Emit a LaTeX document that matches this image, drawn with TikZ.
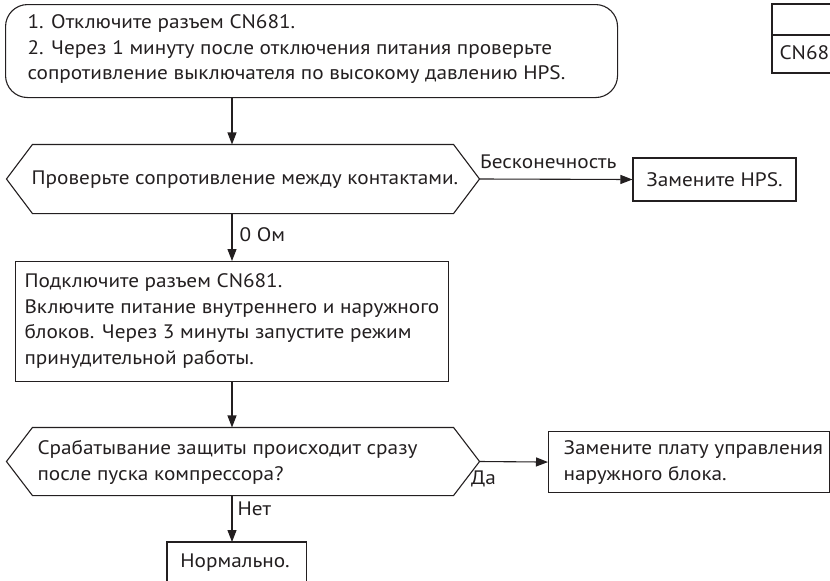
\documentclass[tikz,border=0pt]{standalone}
\usepackage{fontspec}
\setmainfont{PT Sans}[FakeStretch=1.09]
\usetikzlibrary{arrows.meta}
\definecolor{ink}{RGB}{35,31,32}
\begin{document}
\begin{tikzpicture}[x=1pt,y=-1pt, line width=1.1pt,
  every node/.style={text=ink},
  font=\fontsize{19.5}{25.5}\selectfont,
  box/.style={draw=ink, line width=1.1pt, anchor=north west, inner sep=0pt},
  txt/.style={anchor=west, align=left, inner sep=0pt},
  lbl/.style={inner sep=0pt},
  arr/.style={draw=ink, line width=1.1pt, -{Triangle[length=12pt,width=9pt]}},
  edge/.style={draw=ink, line width=1.1pt}]
\path[use as bounding box] (0,0) rectangle (830,581);

% start box
\node[box, rounded corners=22pt, minimum width=612pt, minimum height=93pt] (start) at (5,4) {};
\node[txt] (startT) at (27,49.5) {1. Отключите разъем CN681.\\2. Через 1 минуту после отключения питания проверьте\\сопротивление выключателя по высокому давлению HPS.};

\coordinate (spine) at (232,0);

% hexagon 1
\node[inner sep=0pt, minimum width=472pt, minimum height=68pt] (h1) at (243,179) {};
\draw[edge] (h1.west) -- ([xshift=26pt]h1.north west) -- ([xshift=-26pt]h1.north east) -- (h1.east) -- ([xshift=-26pt]h1.south east) -- ([xshift=26pt]h1.south west) -- cycle;
\node[lbl] (h1T) at (245,180) {Проверьте сопротивление между контактами.};

% HPS box
\node[draw=ink, line width=1.1pt, minimum width=163pt, minimum height=43pt, inner sep=0pt] (hps) at (714.5,179.5) {Замените HPS.};

% box 2
\node[box, minimum width=433pt, minimum height=120pt] (b2) at (15,261) {};
\node[txt] (b2T) at (24,321) {Подключите разъем CN681.\\Включите питание внутреннего и наружного\\блоков. Через 3 минуты запустите режим\\принудительной работы.};

% hexagon 2
\node[inner sep=0pt, minimum width=472pt, minimum height=67pt] (h2) at (243,461.5) {};
\draw[edge] (h2.west) -- ([xshift=26pt]h2.north west) -- ([xshift=-26pt]h2.north east) -- (h2.east) -- ([xshift=-26pt]h2.south east) -- ([xshift=26pt]h2.south west) -- cycle;
\node[txt] (h2T) at (37,462.5) {Срабатывание защиты происходит сразу\\после пуска компрессора?};

% control board box
\node[box, minimum width=281pt, minimum height=61pt] (ctrl) at (548,431) {};
\node[txt] (ctrlT) at (563,462.5) {Замените плату управления\\наружного блока.};

% normal box (cut at bottom)
\node[inner sep=0pt, anchor=north west, minimum width=138pt, minimum height=39pt] (ok) at (167,542) {};
\draw[edge] (ok.south west) -- (ok.north west) -- (ok.north east) -- (ok.south east);
\node[lbl] (okT) at (235,563) {Нормально.};

% CN68 table fragment
\coordinate (cnA) at (772,4);
\coordinate (cnB) at (830,4);
\coordinate (cnC) at (772,35);
\coordinate (cnD) at (830,35);
\coordinate (cnE) at (772,73);
\coordinate (cnF) at (830,73);
\draw[edge] (cnB) -- (cnA) -- (cnE) -- (cnF);
\draw[edge] (cnC) -- (cnD);
\node[txt] (cnT) at (779,53) {CN68};

% connectors
\draw[arr] (start.south -| spine) -- (h1.north -| spine);
\draw[arr] (h1.south -| spine) -- (b2.north -| spine) node[lbl, pos=0.45, anchor=west, xshift=7pt] {0 Ом};
\draw[arr] (b2.south -| spine) -- (h2.north -| spine);
\draw[arr] (h2.south -| spine) -- (ok.north -| spine) node[lbl, pos=0.28, anchor=west, xshift=5pt] {Нет};
\draw[arr] (h1.east) -- (hps.west) node[lbl, pos=0, anchor=west, yshift=17pt] {Бесконечность};
\draw[arr] (h2.east) -- (ctrl.west) node[lbl, pos=0, anchor=west, xshift=-9pt, yshift=-17pt] {Да};
\end{tikzpicture}
\end{document}
